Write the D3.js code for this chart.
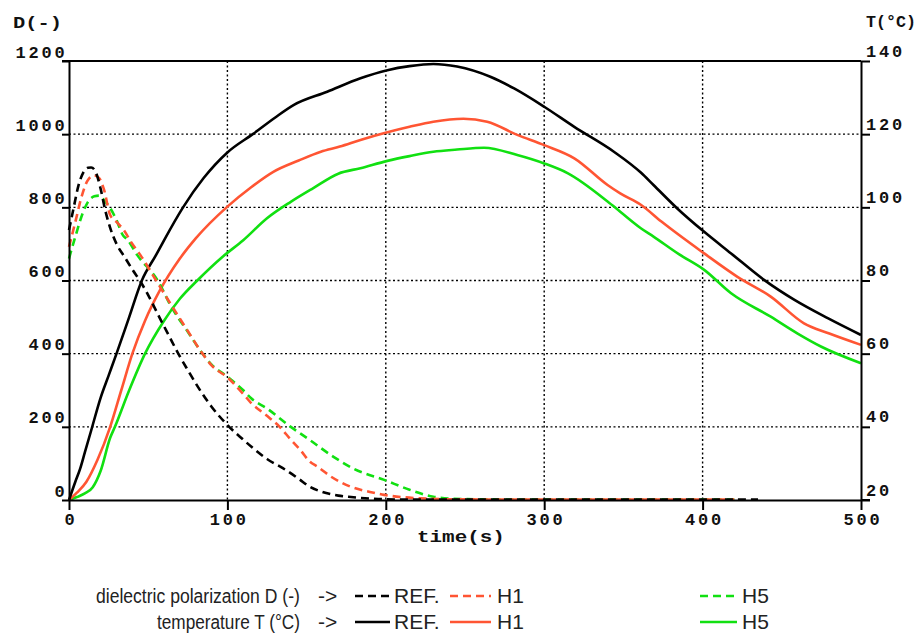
<!DOCTYPE html>
<html><head><meta charset="utf-8">
<script src="https://cdn.jsdelivr.net/npm/d3@7"></script>
<style>
html,body{margin:0;padding:0;background:#fff;}
svg{display:block;}
.ax text{font-family:"Liberation Mono","Courier New",monospace;font-weight:bold;font-size:17px;letter-spacing:2.8px;fill:#111;}
.leg{font-family:"Liberation Sans","Arial",sans-serif;font-size:21px;fill:#222;}
</style></head>
<body>
<svg id="c" width="918" height="635"></svg>
<script>
// ---- data ----
const xTicks = [0,100,200,300,400,500];
const dTicks = [0,200,400,600,800,1000,1200];
const tTicks = [20,40,60,80,100,120,140];

const refD_t = [0,3,6,9,12,14,17,20,23,26,30,35,40,45,50,57,63,69,75,82,90,100,110,115,125,135,145,152,160,170,178,190,200,220,260,320,380,435];
const refD_v = [738,800,860,895,908,909,895,850,790,744,700,665,630,598,560,500,450,400,355,305,255,205,165,146,112,87,58,36,22,12,8,4,2,1,1,1,1,1];

const h1D_t = [0,4,8,12,16,19,22,26,30,35,39,45,55,65,75,83,90,100,110,115,125,133,140,146,152,157,165,178,190,199,210,220,240,300,420];
const h1D_v = [692,760,830,875,887,880,850,779,760,735,706,670,600,530,462,408,368,335,290,265,230,200,165,137,105,91,65,36,22,14,8,5,2,1,1];

const h5D_t = [0,4,9,12,16,19,22,26,30,34,37,43,56,65,75,83,90,100,110,115,125,140,152,167,180,199,215,230,240,260,300,420];
const h5D_v = [660,720,788,815,830,832,820,798,765,724,711,670,600,525,460,408,370,337,300,278,250,200,164,118,85,55,28,9,4,2,1,1];

const refT_t = [0,4,7,10,14,20,25,30,38,46,55,60,72,85,100,116,130,142,163,184,201,215,230,245,266,281,300,319,344,361,369,384,401,418,439,458,479,500];
const refT_v = [20,25,28.5,33,39,48,54,60,70,80,87,91,100,108,115,120,124.5,128,131.6,135.3,137.5,138.6,139.2,138.5,135.7,132.5,127.5,122,115.2,109.5,106.1,99.7,93.3,87.4,80.1,74.7,69.7,65.1];

const h1T_t = [0,5,11,18,26,33,40,48,57,70,80,100,115,129,145,159,171,184,201,215,230,249,264,283,300,319,340,348,361,374,401,422,443,464,480,500];
const h1T_v = [20,22,25,31,40,50,60,69,77,86,91.5,100.2,105.5,109.7,112.8,115.2,116.6,118.4,120.5,122,123.4,124.2,123.4,119.8,117,113.4,106.1,103.8,100.7,96.1,87.4,81,75.6,68.3,65.5,62.4];

const h5T_t = [0,5,10,15,20,26,29,38,48,60,70,81,97,110,125,140,154,170,184,201,215,230,245,262,283,300,315,340,348,361,369,385,401,418,443,460,475,500];
const h5T_v = [20,20.8,21.8,23.5,28,37,40,50,60,69,75,80,86.5,91,97,101.5,105.2,109.2,110.7,112.7,114,115.2,115.8,116.3,114.3,112,109.3,101.6,98.8,94.3,92,87.2,82.9,76.5,70.1,65.5,61.9,57.4];

const colors = {ref:"#000000", h1:"#ff5533", h5:"#11e011"};

// ---- layout ----
const L=69, R=861, T=61, B=500;
const svg = d3.select("#c");
const x = d3.scaleLinear().domain([0,500]).range([L,R]);
const yD = d3.scaleLinear().domain([0,1200]).range([B,T]);
const yT = d3.scaleLinear().domain([20,140]).range([B,T]);

// grid
const g = svg.append("g");
g.selectAll(".gh").data(dTicks.filter(d=>d>0&&d<1200)).join("line")
  .attr("x1",L).attr("x2",R).attr("y1",d=>yD(d)).attr("y2",d=>yD(d))
  .attr("stroke","#000").attr("stroke-width",1.4).attr("stroke-dasharray","2,2.5");
g.selectAll(".gv").data(xTicks.filter(d=>d>0&&d<500)).join("line")
  .attr("y1",T).attr("y2",B).attr("x1",d=>x(d)).attr("x2",d=>x(d))
  .attr("stroke","#000").attr("stroke-width",1.4).attr("stroke-dasharray","2,2.5");

// curves
function draw(ts, vs, ys, col, dashed){
  const pts = ts.map((t,i)=>[t,vs[i]]);
  const line = d3.line().x(d=>x(d[0])).y(d=>ys(d[1])).curve(d3.curveMonotoneX);
  svg.append("path").datum(pts).attr("d",line).attr("fill","none")
    .attr("stroke",col).attr("stroke-width",2.6)
    .attr("stroke-dasharray",dashed?"8,5":null);
}
draw(h5T_t,h5T_v,yT,colors.h5,false);
draw(h1T_t,h1T_v,yT,colors.h1,false);
draw(refT_t,refT_v,yT,colors.ref,false);
draw(h5D_t,h5D_v,yD,colors.h5,true);
draw(h1D_t,h1D_v,yD,colors.h1,true);
draw(refD_t,refD_v,yD,colors.ref,true);

// axes
const fmt = d3.format("d");
const axL = svg.append("g").attr("class","ax").attr("transform",`translate(${L},0)`)
  .call(d3.axisLeft(yD).tickValues(dTicks).tickFormat(fmt).tickSize(7).tickSizeOuter(0));
axL.selectAll("text").attr("dy",-4).attr("x",-1.5).attr("y",0);
const axR = svg.append("g").attr("class","ax").attr("transform",`translate(${R},0)`)
  .call(d3.axisRight(yT).tickValues(tTicks).tickFormat(fmt).tickSize(9).tickSizeOuter(0));
axR.selectAll("text").attr("dy",-5).attr("x",5).attr("y",0);
const axB = svg.append("g").attr("class","ax").attr("transform",`translate(0,${B})`)
  .call(d3.axisBottom(x).tickValues(xTicks).tickFormat(fmt).tickSize(10).tickSizeOuter(0));
axB.selectAll("text").attr("y",25).attr("dy",0).attr("dx",1.4);
svg.selectAll(".ax path,.ax line").attr("stroke","#000").attr("stroke-width",2);
// extend bottom axis to the right
svg.append("line").attr("x1",R).attr("x2",R+9).attr("y1",B).attr("y2",B).attr("stroke","#000").attr("stroke-width",2);
// top border
svg.append("line").attr("x1",L-7).attr("x2",R).attr("y1",T).attr("y2",T).attr("stroke","#000").attr("stroke-width",2);

// text fitted to a width with a horizontal scale transform
function fitText(parent, cls, txt, xStart, yBase, width, style){
  const gg = parent.append("g");
  const t = gg.append("text").attr("class",cls).attr("x",0).attr("y",0).text(txt);
  if(style) t.style("letter-spacing",style);
  const w = t.node().getComputedTextLength();
  gg.attr("transform",`translate(${xStart},${yBase}) scale(${width/w},1)`);
  return gg;
}

// axis titles
const at = svg.append("g").attr("class","ax");
fitText(at,null,"D(-)",13,28,49,"0px");
fitText(at,null,"T(°C)",866,27,50,"0px");
fitText(at,null,"time(s)",417,542,88,"0px");

// legend
const leg = svg.append("g");
const rows = [
  {label:"dielectric polarization D (-)", y:596, dash:"8,5", w:204},
  {label:"temperature T (°C)", y:622, dash:null, w:143}
];
const entries = [
  {name:"REF.", col:colors.ref, x0:355, x1:390, tx:394},
  {name:"H1", col:colors.h1, x0:450, x1:491, tx:497},
  {name:"H5", col:colors.h5, x0:700, x1:737, tx:742}
];
rows.forEach(r=>{
  fitText(leg,"leg",r.label,300-r.w,r.y+7,r.w,null);
  leg.append("text").attr("class","leg").attr("x",318).attr("y",r.y).attr("dy","0.35em").text("->");
  entries.forEach(e=>{
    leg.append("line").attr("x1",e.x0).attr("x2",e.x1).attr("y1",r.y).attr("y2",r.y)
      .attr("stroke",e.col).attr("stroke-width",2.6).attr("stroke-dasharray",r.dash);
    leg.append("text").attr("class","leg").attr("x",e.tx).attr("y",r.y).attr("dy","0.35em").text(e.name);
  });
});
</script>
</body></html>
